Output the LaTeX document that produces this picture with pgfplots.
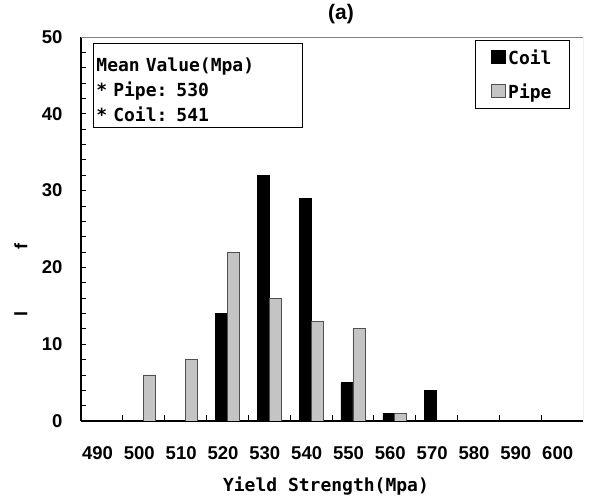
\documentclass[border=0pt]{standalone}
\usepackage{fontspec}
\setmainfont{Liberation Sans}
\newfontfamily\monofont{DejaVu Sans Mono}
\usepackage{pgfplots}
\pgfplotsset{compat=1.18}

\definecolor{pipegray}{RGB}{196,196,196}
\definecolor{pipeedge}{RGB}{80,80,80}

\begin{document}
\begin{tikzpicture}
\path[use as bounding box] (-81pt,-82pt) rectangle (508pt,421pt);
\begin{axis}[
  scale only axis, width=502pt, height=384pt,
  ybar=0pt, bar width=12pt,
  xmin=-0.5, xmax=11.5, ymin=0, ymax=50,
  axis lines*=left, axis line style={-, black, line width=1.4pt},
  % ticks sit on the slot boundaries, labels are moved into the slots
  xtick={-0.5,0.5,...,10.5},
  xticklabels={490,500,510,520,530,540,550,560,570,580,590,600},
  ytick={0,2,...,50},
  yticklabels={0,,,,,10,,,,,20,,,,,30,,,,,40,,,,,50},
  tick align=inside, xtick pos=bottom, ytick pos=left,
  major tick length=5.5pt,
  tick style={black, line width=0.8pt},
  /pgf/number format/assume math mode=true,
  ticklabel style={font=\bfseries\fontsize{18.5}{20}\selectfont},
  xticklabel style={yshift=-22pt, xshift=16.5pt},
  yticklabel style={xshift=-15pt},
  title={(a)},
  title style={at={(axis description cs:0.518,1)}, anchor=center, yshift=17pt,
    font=\bfseries\fontsize{21}{23}\selectfont},
  xlabel={Yield Strength(Mpa)},
  xlabel style={at={(axis description cs:0.488,0)}, anchor=center, yshift=-65pt,
    font=\monofont\bfseries\fontsize{18}{20}\selectfont},
  ylabel={l\hspace*{62pt}f},
  ylabel style={at={(axis description cs:-0.12,0.367)}, anchor=center,
    font=\bfseries\fontsize{18}{20}\selectfont},
  legend style={at={(rel axis cs:0.974,0.992)}, anchor=north east,
    draw=black, line width=0.8pt, font=\monofont\bfseries\fontsize{18}{20}\selectfont,
    row sep=14pt, inner xsep=16pt, inner ysep=7pt},
  legend cell align=left,
]
\addplot[fill=black, draw=black,
  legend image code/.code={\draw[fill=black,draw=black] (0pt,-6pt) rectangle (14pt,7pt);}]
  coordinates {(3,14) (4,32) (5,29) (6,5) (7,1) (8,4)};
\addlegendentry{Coil}
\addplot[fill=pipegray, draw=pipeedge, line width=0.8pt,
  legend image code/.code={\draw[fill=pipegray,draw=pipeedge] (0pt,-6pt) rectangle (14pt,7pt);}]
  coordinates {(1,6) (2,8) (3,22) (4,16) (5,13) (6,12) (7,1)};
\addlegendentry{Pipe}

\draw[gray, line width=0.8pt] (rel axis cs:0,1) -- (rel axis cs:1,1) -- (rel axis cs:1,0);
\node[draw=black, line width=0.8pt, anchor=north west, text width=203pt, align=left,
  inner xsep=3pt, inner ysep=6pt,
  font=\monofont\bfseries\fontsize{18}{25}\selectfont]
  at (rel axis cs:0.024,0.984)
  {\rule{0pt}{22pt}Mean Value(Mpa)\\{*} Pipe: 530\\{*} Coil: 541};
\end{axis}
\end{tikzpicture}
\end{document}
